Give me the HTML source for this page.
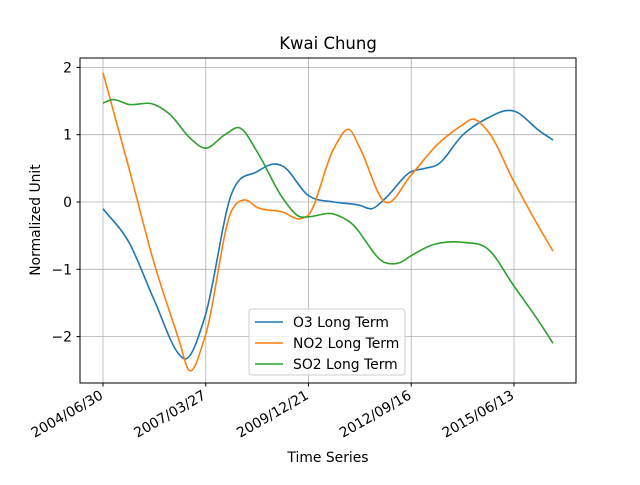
<!DOCTYPE html>
<html><head><meta charset="utf-8"><style>
body{margin:0;background:#fff}
svg{font-family:"DejaVu Sans","Liberation Sans",sans-serif}
</style></head><body>
<svg id="chart" width="640" height="480" viewBox="0 0 640 480">
<rect width="640" height="480" fill="#fff"/>
<text x="328" y="49" font-size="16.5" text-anchor="middle">Kwai Chung</text>
<g id="grid"></g>
<g id="series"></g>
<rect x="80" y="58" width="496" height="325" fill="none" stroke="#000" stroke-width="1"/>
<g id="ticks"></g>
<text x="328" y="462" font-size="13.9" text-anchor="middle">Time Series</text>
<text transform="translate(40,220) rotate(-90)" font-size="13.9" text-anchor="middle">Normalized Unit</text>
<g id="legend"></g>
</svg>
<script>
const xTickLabels=["2004/06/30","2007/03/27","2009/12/21","2012/09/16","2015/06/13"];
const xTickDays=[0,1000,2000,3000,4000];
const yTicks=[-2,-1,0,1,2];
const seriesNames=["O3 Long Term","NO2 Long Term","SO2 Long Term"];
const colors=["#1f77b4","#ff7f0e","#2ca02c"];
const o3Days=[0,253,496,749,788,993,1246,1499,1703,1752,1995,2248,2501,2618,2745,2998,3134,3251,3504,3747,3961,4000,4253,4380];
const o3Vals=[-0.1,-0.6,-1.45,-2.28,-2.33,-1.7,0.1,0.45,0.56,0.53,0.1,0.0,-0.05,-0.1,0.05,0.45,0.5,0.55,1.0,1.25,1.36,1.35,1.05,0.92];
const no2Days=[0,253,496,749,827,993,1246,1382,1499,1752,1917,1995,2248,2404,2501,2745,2998,3251,3504,3591,3747,4000,4253,4380];
const no2Vals=[1.92,0.5,-0.9,-2.1,-2.48,-2.0,-0.15,0.03,-0.08,-0.15,-0.25,-0.2,0.8,1.07,0.8,0.0,0.4,0.85,1.15,1.23,1.05,0.3,-0.4,-0.73];
const so2Days=[0,88,253,496,652,847,993,1187,1333,1499,1752,1917,1995,2248,2404,2745,2890,2998,3183,3504,3747,4000,4253,4380];
const so2Vals=[1.47,1.52,1.45,1.45,1.3,0.95,0.8,1.0,1.1,0.75,0.05,-0.22,-0.22,-0.18,-0.3,-0.9,-0.9,-0.8,-0.65,-0.6,-0.7,-1.25,-1.8,-2.1];
const xs=d=>103+d*0.10275, ys=v=>202-67.3*v;
const NS="http://www.w3.org/2000/svg";
function mk(t,a,p){const e=document.createElementNS(NS,t);for(const k in a)e.setAttribute(k,a[k]);p.appendChild(e);return e;}
const grid=document.getElementById('grid'),ticks=document.getElementById('ticks');
xTickDays.forEach((d,i)=>{const x=xs(d);
 const g=mk('line',{x1:x,x2:x,y1:58,y2:383,stroke:'#b0b0b0','stroke-width':0.8},grid);
 
 
 const t=mk('line',{x1:x,x2:x,y1:383,y2:386.5,stroke:'#000'},ticks);
 
 
 const l=mk('text',{x:0,y:0,'font-size':13.9,'text-anchor':'end',transform:`translate(${x+1},${398}) rotate(-30)`},ticks);
 l.textContent=xTickLabels[i];
 
 
});
yTicks.forEach(v=>{const y=ys(v);
 const g=mk('line',{x1:80,x2:576,y1:y,y2:y,stroke:'#b0b0b0','stroke-width':0.8},grid);
 
 
 const t=mk('line',{x1:76.5,x2:80,y1:y,y2:y,stroke:'#000'},ticks);
 
 
 const l=mk('text',{x:72,y:y+5,'font-size':13.9,'text-anchor':'end'},ticks);
 l.textContent=(v<0?'\u2212':'')+Math.abs(v);
 
 
});
function pathFor(D,V){const P=D.map((d,i)=>[xs(d),ys(V[i])]);const n=P.length;
 const m=P.map((p,i)=>{if(i===0)return (P[1][1]-P[0][1])/(P[1][0]-P[0][0]);
  if(i===n-1)return (P[n-1][1]-P[n-2][1])/(P[n-1][0]-P[n-2][0]);
  const s1=(p[1]-P[i-1][1])/(p[0]-P[i-1][0]),s2=(P[i+1][1]-p[1])/(P[i+1][0]-p[0]);
  const h1=p[0]-P[i-1][0],h2=P[i+1][0]-p[0];return (s1*h2+s2*h1)/(h1+h2);});
 let s=`M${P[0][0]},${P[0][1]}`;
 for(let i=0;i<n-1;i++){const h=(P[i+1][0]-P[i][0])/3;
  s+=`C${P[i][0]+h},${P[i][1]+m[i]*h} ${P[i+1][0]-h},${P[i+1][1]-m[i+1]*h} ${P[i+1][0]},${P[i+1][1]}`;}return s;}
const ser=document.getElementById('series');
const DD=[o3Days,no2Days,so2Days],VV=[o3Vals,no2Vals,so2Vals],nm=['o3-line','no2-line','so2-line'];
DD.forEach((D,i)=>{const p=mk('path',{d:pathFor(D,VV[i]),fill:'none',stroke:colors[i],'stroke-width':1.6},ser);
 
 });
const lg=document.getElementById('legend');
const box=mk('rect',{x:249,y:309,width:156,height:66,rx:3,fill:'#fff','fill-opacity':0.8,stroke:'#ccc'},lg);


seriesNames.forEach((n,i)=>{const y=322+i*21;
 const l=mk('line',{x1:255,x2:283,y1:y,y2:y,stroke:colors[i],'stroke-width':1.6},lg);
 
 
 const t=mk('text',{x:293,y:y+5,'font-size':13.9},lg);t.textContent=n;
 
 });
</script>
</body></html>
